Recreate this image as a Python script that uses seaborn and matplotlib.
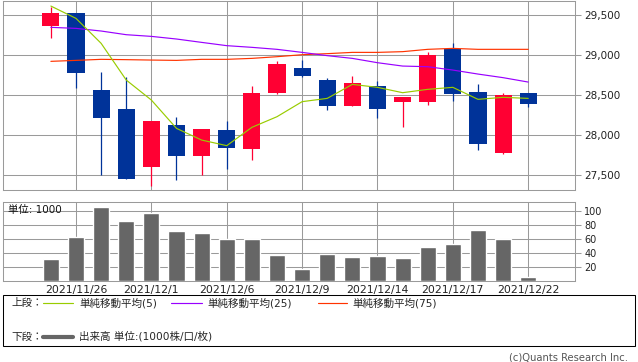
import matplotlib
matplotlib.use('Agg')
import matplotlib.pyplot as plt
import seaborn as sns
import pandas as pd
from matplotlib.lines import Line2D
from matplotlib.patches import Rectangle

# ---------------- data ----------------
dates = ['2021/11/25', '2021/11/26', '2021/11/29', '2021/11/30', '2021/12/1',
         '2021/12/2', '2021/12/3', '2021/12/6', '2021/12/7', '2021/12/8',
         '2021/12/9', '2021/12/10', '2021/12/13', '2021/12/14', '2021/12/15',
         '2021/12/16', '2021/12/17', '2021/12/20', '2021/12/21', '2021/12/22']
opens = [29367, 29525, 28562, 28325, 27604, 28125, 27742, 28062, 27829, 28529,
         28837, 28687, 28367, 28612, 28417, 28417, 29075, 28537, 27779, 28525]
highs = [29596, 29525, 28787, 28725, 28175, 28225, 28075, 28175, 28612, 28925,
         28937, 28712, 28737, 28675, 28475, 29037, 29150, 28637, 28525, 28525]
lows = [29217, 28592, 27504, 27450, 27367, 27442, 27504, 27575, 27692, 28517,
        28729, 28317, 28367, 28217, 28104, 28379, 28429, 27817, 27767, 28354]
closes = [29525, 28779, 28217, 27454, 28175, 27742, 28075, 27842, 28525, 28887,
          28742, 28367, 28650, 28329, 28475, 29000, 28512, 27892, 28500, 28392]
ma5 = [29612, 29458, 29146, 28687, 28437, 28083, 27937, 27867, 28096, 28229,
       28417, 28458, 28633, 28596, 28529, 28571, 28596, 28446, 28471, 28458]
ma25 = [29346, 29333, 29300, 29254, 29233, 29200, 29158, 29117, 29096, 29071,
        29033, 28992, 28958, 28904, 28862, 28854, 28812, 28762, 28717, 28662]
ma75 = [28921, 28933, 28946, 28942, 28937, 28933, 28946, 28946, 28958, 28979,
        29004, 29017, 29033, 29033, 29042, 29071, 29083, 29071, 29071, 29071]
volume = [30.7, 62.0, 105.5, 85.5, 96.9, 70.7, 68.3, 59.3, 59.3, 36.4,
          16.4, 38.3, 33.6, 35.0, 32.1, 47.9, 52.6, 72.1, 59.3, 5.0]
tick_idx = [1, 4, 7, 10, 13, 16, 19]
price_ticks = [27500, 28000, 28500, 29000, 29500]
price_labels = ['27,500', '28,000', '28,500', '29,000', '29,500']
vol_ticks = [20, 40, 60, 80, 100]

# ---------------- style ----------------
sns.set_style('white')
plt.rcParams['font.family'] = ['DejaVu Sans', 'Noto Sans CJK JP']

UP = '#FF0033'
DOWN = '#003399'
GRID = '#9A9A9A'
LW = 0.75
MALW = 0.85

idx = list(range(len(dates)))
df = pd.DataFrame({'i': idx, 'open': opens, 'high': highs, 'low': lows,
                   'close': closes, 'ma5': ma5, 'ma25': ma25, 'ma75': ma75,
                   'volume': volume})

fig = plt.figure(figsize=(6.38, 3.62), dpi=100)
W, H = 638, 362


def frac(x0, y0, x1, y1):
    return [x0 / W, 1 - y1 / H, (x1 - x0) / W, (y1 - y0) / H]


ax = fig.add_axes(frac(3.3, 0.7, 574.7, 190.3))
axv = fig.add_axes(frac(3.3, 201.7, 574.7, 280.5))

xlim = (-1.894, 20.85)

# ---------------- price panel ----------------
colors = [UP if c >= o else DOWN for o, c in zip(opens, closes)]
ax.vlines(df['i'], df['low'], df['high'], colors=colors, lw=0.9, zorder=2)
bottoms = [min(o, c) for o, c in zip(opens, closes)]
heights = [max(abs(c - o), 8) for o, c in zip(opens, closes)]
ax.bar(df['i'], heights, bottom=bottoms, width=0.68, color=colors,
       linewidth=0, zorder=3)
sns.lineplot(data=df, x='i', y='ma75', ax=ax, color='#FF3300', lw=MALW,
             zorder=4, legend=False)
sns.lineplot(data=df, x='i', y='ma25', ax=ax, color='#9900FF', lw=MALW,
             zorder=4, legend=False)
sns.lineplot(data=df, x='i', y='ma5', ax=ax, color='#99CC00', lw=MALW,
             zorder=5, legend=False)

ax.set_xlim(*xlim)
ax.set_ylim(27309, 29679)
ax.set_xticks(tick_idx)
ax.set_xticklabels([])
ax.set_yticks(price_ticks)
ax.set_yticklabels(price_labels)
ax.yaxis.tick_right()
ax.tick_params(axis='y', length=4, width=LW, color=GRID, labelsize=7.5,
               pad=3, labelcolor='#222222')
ax.tick_params(axis='x', length=0)
ax.grid(True, color=GRID, lw=LW)
ax.set_axisbelow(True)
ax.set_xlabel('')
ax.set_ylabel('')
for s in ax.spines.values():
    s.set_visible(True)
    s.set_color(GRID)
    s.set_linewidth(LW)

# ---------------- volume panel ----------------
sns.barplot(data=df, x='i', y='volume', ax=axv, native_scale=True,
            color='#666666', width=0.64, saturation=1, zorder=3)
axv.set_xlim(*xlim)
axv.set_ylim(0, 112.6)
axv.set_xticks(tick_idx)
axv.set_xticklabels([dates[i] for i in tick_idx])
axv.set_yticks(vol_ticks)
axv.yaxis.tick_right()
axv.tick_params(axis='y', length=4, width=LW, color=GRID, labelsize=7,
                pad=3, labelcolor='#222222')
axv.tick_params(axis='x', length=0, labelsize=7.8, pad=3,
                labelcolor='#222222')
axv.grid(True, color=GRID, lw=LW)
axv.set_axisbelow(True)
axv.set_xlabel('')
axv.set_ylabel('')
for s in axv.spines.values():
    s.set_visible(True)
    s.set_color(GRID)
    s.set_linewidth(LW)
axv.text(0.008, 0.90, '単位: 1000', transform=axv.transAxes, fontsize=7.5,
         ha='left', va='center', color='#111111', zorder=6)

# ---------------- legend box ----------------
fig.patches.append(Rectangle((3.3 / W, 1 - 346 / H), (635 - 3.3) / W,
                             (346 - 295.3) / H, transform=fig.transFigure,
                             fill=False, edgecolor='black', lw=LW))


def fx(x):
    return x / W


def fy(y):
    return 1 - y / H


y1, y2 = 303.3, 336.7
fs = 7.6
fig.text(fx(11), fy(y1), '上段：', fontsize=fs, va='center', ha='left')
fig.text(fx(11), fy(y2), '下段：', fontsize=fs, va='center', ha='left')
legend_items = [(43, 73, 79, '#99CC00', '単純移動平均(5)'),
                (171, 202, 207, '#9900FF', '単純移動平均(25)'),
                (318, 347, 352, '#FF3300', '単純移動平均(75)')]
for xa, xb, xt, c, t in legend_items:
    fig.add_artist(Line2D([fx(xa), fx(xb)], [fy(y1), fy(y1)], color=c,
                          lw=MALW, transform=fig.transFigure))
    fig.text(fx(xt), fy(y1), t, fontsize=fs, va='center', ha='left')
fig.add_artist(Line2D([fx(43), fx(73)], [fy(y2), fy(y2)], color='#666666',
                      lw=3, transform=fig.transFigure))
fig.text(fx(79), fy(y2), '出来高 単位:(1000株/口/枚)', fontsize=fs,
         va='center', ha='left')

fig.text(fx(628), fy(357.5), '(c)Quants Research Inc.', fontsize=7.2,
         va='center', ha='right', color='#555555')

fig.savefig('out.png', dpi=100)
